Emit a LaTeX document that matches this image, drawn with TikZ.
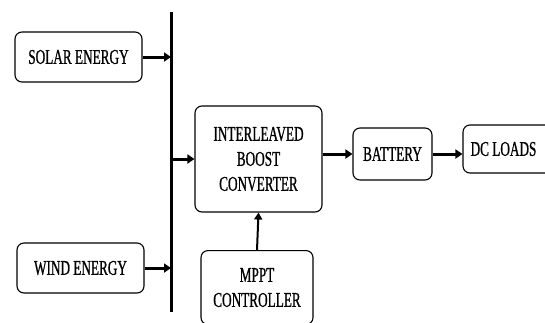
\documentclass[tikz,border=0pt]{standalone}
\usepackage{fontspec}
\setmainfont[FakeStretch=0.63, FakeBold=0.8]{Liberation Serif}
\usetikzlibrary{arrows.meta}

\tikzset{
	block/.style={draw, rounded corners=7pt, line width=1.1pt, align=center,
		font=\fontsize{21}{25}\selectfont, inner sep=0pt},
	flow/.style={line width=3pt, -{Triangle[length=7pt,width=9pt]}},
	ctrl/.style={line width=2pt, -{Triangle[length=7pt,width=8pt]}},
	bus/.style={line width=3pt}
}

\begin{document}
\begin{tikzpicture}[x=1pt, y=-1pt]
	\useasboundingbox (0,0) rectangle (545,322);
	\clip (0,0) rectangle (545,322);
	\coordinate (busTop) at (171,12);
	\coordinate (busBot) at (171,312);
	\node[block, minimum width=127pt, minimum height=50pt] (solar) at (78.5,57) {SOLAR ENERGY};
	\node[block, minimum width=127pt, minimum height=50pt] (wind) at (80.5,268) {WIND ENERGY};
	\node[block, minimum width=127pt, minimum height=106pt] (ibc) at (258.5,159) {INTERLEAVED\\BOOST\\CONVERTER};
	\node[block, minimum width=79pt, minimum height=52pt] (battery) at (392.5,154) {BATTERY};
	\node[block, minimum width=90pt, minimum height=48pt] (loads) at (508,149) {DC LOADS\hspace{9pt}};
	\node[block, minimum width=112pt, minimum height=74pt, anchor=north] (mppt) at (257,250) {MPPT\\CONTROLLER};
	\draw[bus] (busTop) -- (busBot);
	\draw[flow] (solar.east) -- (solar.east -| busTop);
	\draw[flow] (wind.east) -- (wind.east -| busTop);
	\draw[flow] (ibc.west -| busTop) -- (ibc.west);
	\draw[flow] (ibc.east |- battery.west) -- (battery.west);
	\draw[flow] (battery.east) -- (battery.east -| loads.west);
	\draw[ctrl] (mppt.north) -- (ibc.south);
\end{tikzpicture}
\end{document}
